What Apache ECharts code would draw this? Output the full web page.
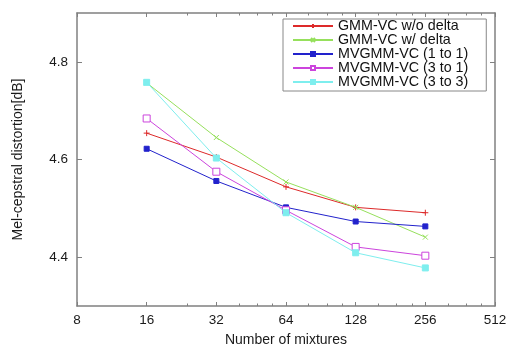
<!DOCTYPE html>
<html>
<head>
<meta charset="utf-8">
<script src="https://cdn.jsdelivr.net/npm/echarts@6/dist/echarts.min.js"></script>
<style>html,body{margin:0;padding:0;background:#fff}#c{width:510px;height:352px}</style>
</head>
<body>
<div id="c"></div>
<script>
const mixtures = [16, 32, 64, 128, 256];
const xTickLabels = [8, 16, 32, 64, 128, 256, 512];
const xMinorTicks = [24, 40, 48, 56, 80, 96, 112, 160, 192, 224, 320, 384, 448];
const yTickLabels = [4.4, 4.6, 4.8];
const seriesNames = ['GMM-VC w/o delta', 'GMM-VC w/ delta', 'MVGMM-VC (1 to 1)', 'MVGMM-VC (3 to 1)', 'MVGMM-VC (3 to 3)'];
const gmmNoDelta = [4.654, 4.605, 4.544, 4.502, 4.491];
const gmmDelta = [4.757, 4.645, 4.554, 4.502, 4.441];
const mv11 = [4.622, 4.556, 4.502, 4.473, 4.463];
const mv31 = [4.684, 4.575, 4.496, 4.421, 4.403];
const mv33 = [4.758, 4.603, 4.491, 4.409, 4.378];

const colors = ['#dd2a2a', '#96e05c', '#2222cc', '#cc44dd', '#7eeeee'];
const FONT = 'Liberation Sans, Arial, sans-serif';
const axisColor = '#808080';
const log2 = v => Math.log2(v);

function mk(i, vals, symbol, size, fill) {
  return {
    name: seriesNames[i], type: 'line', xAxisIndex: 0, yAxisIndex: 0,
    data: mixtures.map((m, k) => [log2(m), vals[k]]),
    symbol: symbol, symbolSize: size, showAllSymbol: true,
    lineStyle: { color: colors[i], width: 1 },
    itemStyle: { color: fill || colors[i], borderColor: colors[i], borderWidth: 1 },
    emphasis: { disabled: true }, animation: false, z: 3 + i
  };
}
const plusPath = 'path://M0,5L10,5M5,0L5,10';
const crossPath = 'path://M0,0L10,10M10,0L0,10';

function xAxisDef(pos, values, len, showLine, showLabel) {
  return {
    type: 'value', position: pos, min: 3, max: 9, interval: 1,
    axisLine: { show: showLine, onZero: false, lineStyle: { color: axisColor, width: 1.5 } },
    axisTick: { show: true, inside: true, length: len, customValues: values.map(log2), lineStyle: { color: axisColor, width: 1 } },
    axisLabel: { show: showLabel, customValues: values.map(log2), formatter: v => String(Math.round(Math.pow(2, v))), color: '#1a1a1a', fontFamily: FONT, fontSize: 13.5, margin: 7 },
    splitLine: { show: false }
  };
}
function yAxisDef(pos, showLabel) {
  return {
    type: 'value', position: pos, min: 4.3, max: 4.9, interval: 0.1,
    axisLine: { show: true, onZero: false, lineStyle: { color: axisColor, width: 1.5 } },
    axisTick: { show: true, inside: true, length: 5, customValues: yTickLabels, lineStyle: { color: axisColor, width: 1 } },
    axisLabel: { show: showLabel, customValues: yTickLabels, formatter: v => v.toFixed(1), color: '#1a1a1a', fontFamily: FONT, fontSize: 13.5, margin: 9 },
    splitLine: { show: false }
  };
}

const xMain = xAxisDef('bottom', xTickLabels, 4, true, true);
xMain.name = 'Number of mixtures';
xMain.nameLocation = 'middle';
xMain.nameGap = 27;
xMain.nameTextStyle = { color: '#1a1a1a', fontFamily: FONT, fontSize: 14 };
const yMain = yAxisDef('left', true);
yMain.name = 'Mel-cepstral distortion[dB]';
yMain.nameLocation = 'middle';
yMain.nameGap = 52;
yMain.nameRotate = 90;
yMain.nameTextStyle = { color: '#1a1a1a', fontFamily: FONT, fontSize: 14 };

const option = {
  animation: false,
  backgroundColor: '#fff',
  grid: { left: 77, right: 15, top: 13, bottom: 42, containLabel: false },
  xAxis: [
    xMain,
    xAxisDef('bottom', xMinorTicks, 2.5, false, false),
    xAxisDef('top', xTickLabels, 4, true, false),
    xAxisDef('top', xMinorTicks, 2.5, false, false)
  ],
  yAxis: [yMain, yAxisDef('right', false)],
  legend: {
    orient: 'vertical', left: 283, top: 19,
    itemWidth: 40, itemHeight: 5, itemGap: 0,
    padding: [0, 18, 2, 9],
    backgroundColor: '#fff', borderColor: '#888', borderWidth: 1, borderRadius: 0,
    textStyle: { color: '#111', fontFamily: FONT, fontSize: 14.3, lineHeight: 13.8 },
    data: seriesNames,
    selectedMode: false
  },
  series: [
    mk(0, gmmNoDelta, plusPath, 6),
    mk(1, gmmDelta, crossPath, 5),
    mk(2, mv11, 'rect', 5),
    mk(3, mv31, 'rect', 7, '#ffffff'),
    mk(4, mv33, 'rect', 6)
  ]
};
const chart = echarts.init(document.getElementById('c'), null, { renderer: 'canvas' });
chart.setOption(option);
</script>
</body>
</html>
